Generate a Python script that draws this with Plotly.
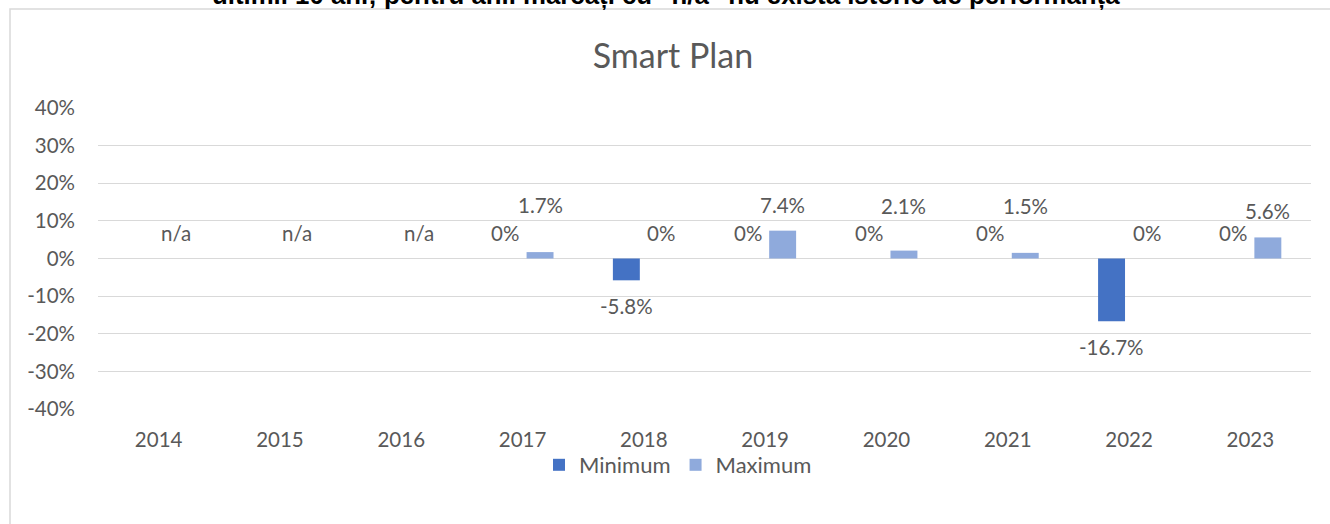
import plotly.graph_objects as go

# ---------------- data ----------------
years = ["2014", "2015", "2016", "2017", "2018", "2019", "2020", "2021", "2022", "2023"]
minimum = [None, None, None, 0, -5.8, 0, 0, 0, -16.7, 0]
maximum = [None, None, None, 1.7, 0, 7.4, 2.1, 1.5, 0, 5.6]
y_ticks = [-40, -30, -20, -10, 0, 10, 20, 30, 40]
y_tick_labels = ["-40%", "-30%", "-20%", "-10%", "0%", "10%", "20%", "30%", "40%"]
chart_title = "Smart Plan"
top_note = "ultimii 10 ani; pentru anii marcați cu \"n/a\" nu există istoric de performanță"

# ---------------- layout constants ----------------
W, H = 1330, 524
ML, MR, MT, MB = 98, 19, 108, 115
PW, PH = W - ML - MR, H - MT - MB
BARGAP, BARGROUPGAP = 0.423, 0.23
FONT = "Lato, 'Noto Sans', sans-serif"
TXT = "#595959"
C_MIN, C_MAX = "#4472C4", "#8FAADC"
LBL_SIZE = 20.5

y_range = [-40, 40]
px_per_unit = PH / (y_range[1] - y_range[0])
cat_w = PW / len(years)
slot = cat_w * (1 - BARGAP) / 2
offset = slot / 2


def fmt(v):
    return f"{v:g}%"


fig = go.Figure()
fig.add_trace(go.Bar(x=years, y=minimum, name="Minimum", marker=dict(color=C_MIN, line=dict(width=0))))
fig.add_trace(go.Bar(x=years, y=maximum, name="Maximum", marker=dict(color=C_MAX, line=dict(width=0))))

annotations = []
LBL_GAP = 26
LBL_H = 17
for series, sign, show_na in ((minimum, -1, False), (maximum, 1, True)):
    for i, v in enumerate(series):
        if v is None:
            if not show_na:
                continue
            text, yv, ys = "n/a", 0, LBL_GAP
        else:
            text, yv = fmt(v), v
            if v < 0:
                ys = -LBL_GAP
            else:
                vpx = v * px_per_unit
                if 0 < vpx < LBL_H:
                    ys = 2 * LBL_GAP + 1 - vpx
                else:
                    ys = LBL_GAP
        annotations.append(dict(
            x=i, y=yv, xref="x", yref="y", text=text, showarrow=False,
            xshift=sign * offset, yshift=ys, yanchor="middle", xanchor="center",
            font=dict(family=FONT, size=LBL_SIZE, color=TXT),
        ))

# cut-off note at the very top
annotations.append(dict(
    x=(666 - ML) / PW, y=(H - MB) / PH, xref="paper", yref="paper",
    text="<b>" + top_note + "</b>", showarrow=False, xanchor="center", yanchor="bottom",
    yshift=-12,
    font=dict(family="'Liberation Sans', Arial, sans-serif", size=25.8, color="#000000"),
))

fig.update_layout(
    width=W, height=H,
    margin=dict(l=ML, r=MR, t=MT, b=MB, pad=0, autoexpand=False),
    paper_bgcolor="white", plot_bgcolor="white",
    barmode="group", bargap=BARGAP, bargroupgap=BARGROUPGAP,
    font=dict(family=FONT, size=LBL_SIZE, color=TXT),
    title=dict(text=chart_title, x=673 / W, xref="container", xanchor="center",
               y=1 - 56 / H, yref="container", yanchor="middle",
               font=dict(family=FONT, size=34, color=TXT)),
    showlegend=True,
    legend=dict(orientation="h", x=(678 - ML) / PW, xanchor="center",
                y=(H - MB - 465) / PH, yanchor="middle",
                font=dict(family=FONT, size=22, color=TXT), bgcolor="rgba(0,0,0,0)"),
    annotations=annotations,
    shapes=[dict(type="rect", xref="paper", yref="paper",
                 x0=(10 - ML) / PW, x1=(W + 20 - ML) / PW,
                 y0=(H - MB - H - 20) / PH, y1=(H - MB - 9) / PH,
                 line=dict(color="#D9D9D9", width=1.5), fillcolor="rgba(0,0,0,0)", layer="below")],
)
fig.update_yaxes(range=y_range, tickvals=y_ticks, ticktext=y_tick_labels,
                 showgrid=True, gridcolor="#D9D9D9", gridwidth=1, zeroline=False,
                 showline=False, ticks="", ticklabelstandoff=22, automargin=False,
                 tickfont=dict(family=FONT, size=LBL_SIZE, color=TXT))
fig.update_xaxes(type="category", range=[-0.5, len(years) - 0.5], autorange=False,
                 showgrid=False, showline=False, ticks="", automargin=False,
                 ticklabelstandoff=16, tickfont=dict(family=FONT, size=LBL_SIZE, color=TXT))

fig.write_html("out.html", config={"displayModeBar": False},
               post_script="document.body.style.margin='0';document.body.style.overflow='hidden';")
